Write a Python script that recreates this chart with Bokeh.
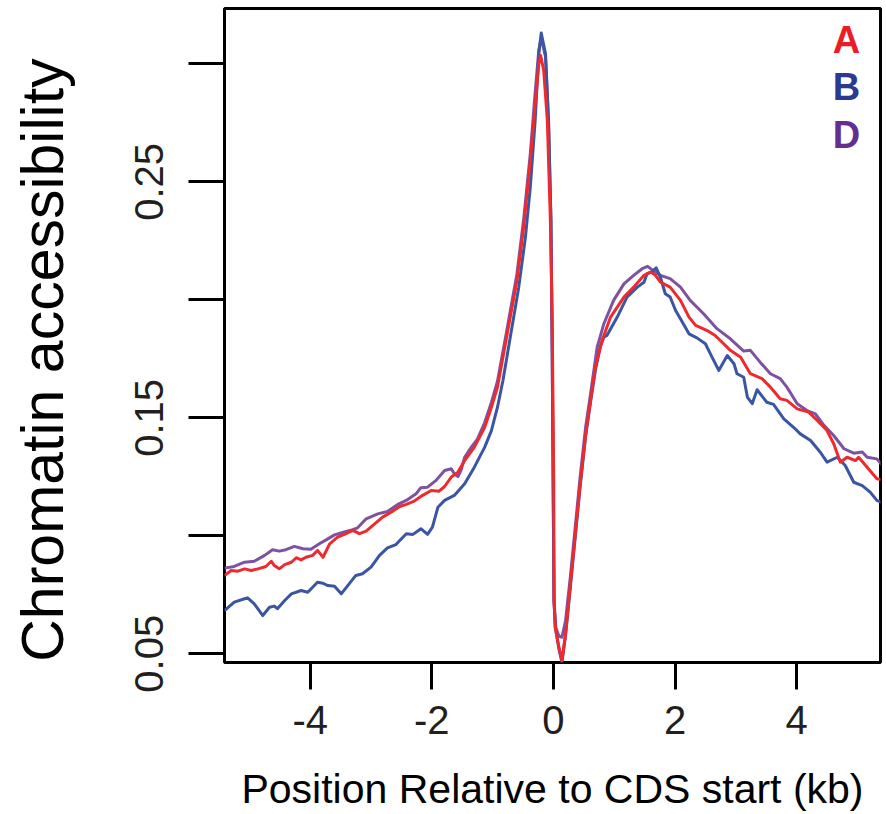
import math
from bokeh.plotting import figure
from bokeh.models import Range1d, FixedTicker, Label
from bokeh.embed import file_html
from bokeh.resources import INLINE

# ---- data (position in kb, chromatin accessibility) ----
pos_A = [-5.41, -5.30, -5.19, -5.08, -4.97, -4.86, -4.73, -4.64, -4.59, -4.51, -4.42, -4.31, -4.23, -4.15, -4.07,
         -3.96, -3.88, -3.79, -3.68, -3.55, -3.44, -3.30, -3.19, -3.08, -2.94, -2.81, -2.67, -2.53, -2.42, -2.29,
         -2.18, -2.01, -1.88, -1.79, -1.68, -1.57, -1.46, -1.30, -1.13, -1.02, -0.92, -0.76, -0.60, -0.49, -0.38,
         -0.30, -0.24, -0.21, -0.16, -0.10, -0.05, -0.02, 0.005, 0.01, 0.03, 0.09, 0.14, 0.20, 0.28, 0.36,
         0.44, 0.53, 0.61, 0.69, 0.80, 0.94, 1.16, 1.32, 1.49, 1.60, 1.68, 1.76, 1.92, 2.09, 2.23,
         2.34, 2.53, 2.66, 2.80, 2.91, 3.08, 3.24, 3.43, 3.57, 3.73, 3.84, 4.01, 4.20, 4.34, 4.50,
         4.61, 4.72, 4.83, 4.97, 5.02, 5.16, 5.32, 5.46]
acc_A = [0.0832, 0.0853, 0.0850, 0.0860, 0.0853, 0.0860, 0.0870, 0.0892, 0.0874, 0.0860, 0.0878, 0.0888, 0.0907, 0.0898, 0.0909,
         0.0917, 0.0938, 0.0909, 0.0966, 0.0994, 0.1006, 0.1023, 0.1009, 0.1020, 0.1051, 0.1079, 0.1100, 0.1124, 0.1133, 0.1147,
         0.1167, 0.1192, 0.1189, 0.1209, 0.1249, 0.1270, 0.1319, 0.1376, 0.1460, 0.1545, 0.1630, 0.1856, 0.2082, 0.2308, 0.2591,
         0.2831, 0.3001, 0.3036, 0.2973, 0.2761, 0.2337, 0.1913, 0.1235, 0.0726, 0.0613, 0.0528, 0.0471, 0.0585, 0.0797, 0.1009,
         0.1221, 0.1432, 0.1574, 0.1715, 0.1828, 0.1927, 0.2012, 0.2054, 0.2104, 0.2118, 0.2104, 0.2075, 0.2054, 0.1998, 0.1927,
         0.1892, 0.1870, 0.1849, 0.1814, 0.1786, 0.1757, 0.1687, 0.1666, 0.1630, 0.1581, 0.1574, 0.1538, 0.1524, 0.1489, 0.1446,
         0.1390, 0.1312, 0.1333, 0.1319, 0.1333, 0.1291, 0.1242, 0.1235]

pos_B = [-5.41, -5.25, -5.08, -5.03, -4.92, -4.78, -4.67, -4.59, -4.54, -4.42, -4.31, -4.15, -4.04, -3.88, -3.79,
         -3.71, -3.60, -3.49, -3.36, -3.25, -3.14, -3.00, -2.86, -2.73, -2.59, -2.42, -2.31, -2.18, -2.07, -1.99,
         -1.90, -1.79, -1.63, -1.46, -1.30, -1.13, -1.02, -0.92, -0.83, -0.71, -0.57, -0.46, -0.38, -0.30, -0.24,
         -0.20, -0.13, -0.08, -0.04, -0.02, -0.005, 0.01, 0.03, 0.09, 0.14, 0.20, 0.28, 0.36, 0.44, 0.53,
         0.61, 0.69, 0.77, 0.83, 0.88, 1.05, 1.21, 1.38, 1.49, 1.54, 1.62, 1.69, 1.76, 1.84, 1.92,
         2.01, 2.12, 2.23, 2.36, 2.50, 2.58, 2.72, 2.86, 2.97, 3.02, 3.13, 3.19, 3.27, 3.35, 3.51,
         3.62, 3.79, 3.95, 4.06, 4.23, 4.39, 4.50, 4.67, 4.80, 4.94, 5.08, 5.21, 5.32, 5.46]
acc_B = [0.0683, 0.0719, 0.0733, 0.0737, 0.0712, 0.0662, 0.0697, 0.0702, 0.0691, 0.0726, 0.0754, 0.0768, 0.0761, 0.0803, 0.0799,
         0.0789, 0.0786, 0.0754, 0.0796, 0.0832, 0.0839, 0.0867, 0.0917, 0.0949, 0.0963, 0.1009, 0.1006, 0.1030, 0.1006, 0.1037,
         0.1121, 0.1150, 0.1171, 0.1221, 0.1291, 0.1376, 0.1446, 0.1545, 0.1658, 0.1842, 0.2054, 0.2266, 0.2478, 0.2761, 0.3043,
         0.3131, 0.3043, 0.2761, 0.2337, 0.1773, 0.1235, 0.0726, 0.0613, 0.0522, 0.0464, 0.0578, 0.0785, 0.0997, 0.1209, 0.1421,
         0.1565, 0.1701, 0.1800, 0.1842, 0.1849, 0.1927, 0.2012, 0.2054, 0.2075, 0.2111, 0.2118, 0.2136, 0.2096, 0.2026, 0.2012,
         0.1955, 0.1906, 0.1856, 0.1839, 0.1814, 0.1772, 0.1701, 0.1764, 0.1729, 0.1687, 0.1672, 0.1588, 0.1560, 0.1619, 0.1566,
         0.1557, 0.1496, 0.1460, 0.1432, 0.1404, 0.1354, 0.1312, 0.1333, 0.1298, 0.1227, 0.1213, 0.1185, 0.1150, 0.1136]

pos_D = [-5.41, -5.25, -5.08, -4.92, -4.75, -4.62, -4.51, -4.40, -4.26, -4.12, -3.99, -3.85, -3.71, -3.60, -3.47,
         -3.30, -3.22, -3.08, -2.89, -2.73, -2.56, -2.42, -2.26, -2.18, -2.07, -1.93, -1.79, -1.68, -1.63, -1.57,
         -1.52, -1.46, -1.35, -1.25, -1.13, -1.02, -0.92, -0.76, -0.60, -0.49, -0.38, -0.30, -0.24, -0.20, -0.13,
         -0.08, -0.04, -0.02, -0.005, 0.01, 0.04, 0.09, 0.14, 0.20, 0.28, 0.36, 0.44, 0.53, 0.61, 0.72,
         0.83, 0.99, 1.16, 1.32, 1.46, 1.55, 1.62, 1.76, 1.92, 2.09, 2.25, 2.47, 2.69, 2.91, 3.13,
         3.24, 3.40, 3.57, 3.73, 3.84, 4.01, 4.17, 4.31, 4.45, 4.61, 4.78, 4.94, 5.08, 5.16, 5.32, 5.46]
acc_D = [0.0863, 0.0870, 0.0888, 0.0892, 0.0917, 0.0941, 0.0935, 0.0941, 0.0955, 0.0945, 0.0943, 0.0966, 0.0987, 0.1004, 0.1014,
         0.1026, 0.1034, 0.1072, 0.1093, 0.1103, 0.1133, 0.1150, 0.1178, 0.1204, 0.1206, 0.1235, 0.1277, 0.1284, 0.1263, 0.1251,
         0.1277, 0.1333, 0.1376, 0.1410, 0.1480, 0.1565, 0.1655, 0.1880, 0.2110, 0.2340, 0.2620, 0.2880, 0.3060, 0.3110, 0.3030,
         0.2750, 0.2330, 0.1770, 0.1235, 0.0726, 0.0610, 0.0575, 0.0570, 0.0640, 0.0830, 0.1040, 0.1250, 0.1460, 0.1600, 0.1800,
         0.1899, 0.1998, 0.2068, 0.2104, 0.2132, 0.2142, 0.2128, 0.2104, 0.2090, 0.2054, 0.1998, 0.1941, 0.1878, 0.1835, 0.1783,
         0.1786, 0.1736, 0.1687, 0.1666, 0.1630, 0.1560, 0.1531, 0.1517, 0.1468, 0.1425, 0.1369, 0.1350, 0.1355, 0.1333, 0.1326,
         0.1284]

series_names = ["A", "B", "D"]
x_ticks = [-4, -2, 0, 2, 4]
x_tick_labels = ["-4", "-2", "0", "2", "4"]
y_ticks_labeled = [0.05, 0.15, 0.25]
y_tick_labels = ["0.05", "0.15", "0.25"]
y_ticks_unlabeled = [0.10, 0.20, 0.30]
x_title = "Position Relative to CDS start (kb)"
y_title = "Chromatin accessibility"

line_colors = {"A": "#EE2A2E", "B": "#3A55A4", "D": "#7E52A3"}
text_colors = {"A": "#ED1C24", "B": "#2B3990", "D": "#662D91"}

X0, X1 = -5.41, 5.38
Y0, Y1 = 0.0463, 0.3235

p = figure(width=886, height=814, output_backend="svg", toolbar_location=None,
           x_range=Range1d(X0, X1), y_range=Range1d(Y0, Y1),
           min_border_left=224, min_border_right=6, min_border_top=8, min_border_bottom=152)
p.grid.visible = False
p.background_fill_color = "white"
p.border_fill_color = "white"
p.outline_line_color = "black"
p.outline_line_width = 3
p.outline_line_alpha = 1.0

# x axis
xa = p.xaxis[0]
xa.ticker = FixedTicker(ticks=x_ticks)
xa.major_label_overrides = dict(zip(x_ticks, x_tick_labels))
xa.axis_line_color = None
xa.major_tick_line_color = "black"
xa.major_tick_line_width = 3
xa.major_tick_in = 0
xa.major_tick_out = 27
xa.minor_tick_line_color = None
xa.major_label_text_font = "Liberation Sans"
xa.major_label_text_font_size = "40px"
xa.major_label_text_color = "#231F20"
xa.major_label_standoff = 16
xa.axis_label = x_title
xa.axis_label_text_font = "Liberation Sans"
xa.axis_label_text_font_size = "41px"
xa.axis_label_text_font_style = "normal"
xa.axis_label_text_color = "#000000"
xa.axis_label_standoff = 29

# y axis
ya = p.yaxis[0]
ya.ticker = FixedTicker(ticks=y_ticks_labeled, minor_ticks=y_ticks_unlabeled)
ya.major_label_overrides = dict(zip(y_ticks_labeled, y_tick_labels))
ya.axis_line_color = None
ya.major_tick_line_color = "black"
ya.major_tick_line_width = 3
ya.major_tick_in = 0
ya.major_tick_out = 36
ya.minor_tick_line_color = "black"
ya.minor_tick_line_width = 3
ya.minor_tick_in = 0
ya.minor_tick_out = 36
ya.major_label_orientation = "vertical"
ya.major_label_text_font = "'Liberation Sans Narrow', 'Liberation Sans'"
ya.major_label_text_font_size = "40px"
ya.major_label_text_color = "#231F20"
ya.major_label_standoff = 25
# y title (trailing no-break spaces nudge the visible text slightly below the frame centre)
ya.axis_label = y_title + "\u00a0\u00a0\u00a0"
ya.axis_label_text_font = "Liberation Sans"
ya.axis_label_text_font_size = "59px"
ya.axis_label_text_font_style = "normal"
ya.axis_label_text_color = "#000000"
ya.axis_label_standoff = 57

# series lines
data = {"A": (pos_A, acc_A), "B": (pos_B, acc_B), "D": (pos_D, acc_D)}
for name in ["D", "B", "A"]:
    xs, ys = data[name]
    p.line(xs, ys, line_color=line_colors[name], line_width=3, line_join="round")

# legend texts
px_per_kb = 656 / (X1 - X0)
px_per_unit = 654 / (Y1 - Y0)
leg_x = X0 + (846 - 224) / px_per_kb
for i, name in enumerate(series_names):
    base_py = 39 + 47.5 * i
    p.add_layout(Label(x=leg_x, y=Y0 + (662 - base_py) / px_per_unit, text=name,
                       text_align="center", text_baseline="alphabetic",
                       text_font="Liberation Sans", text_font_size="38px",
                       text_font_style="bold", text_color=text_colors[name]))

open("out.html", "w").write(file_html(p, INLINE))
